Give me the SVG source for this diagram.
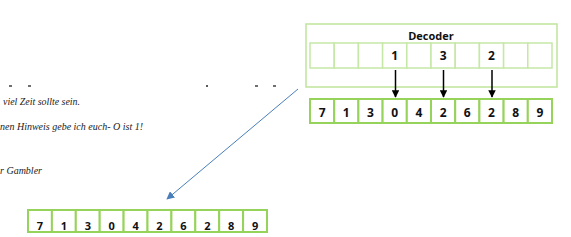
<svg xmlns="http://www.w3.org/2000/svg" width="571" height="237" viewBox="0 0 571 237">
<style>
.cellA{fill:#fff;stroke:#c6e7a6;stroke-width:1.5}
.cellB{fill:#fff;stroke:#96d35a;stroke-width:2}
.num{font-family:"Open Sans","Noto Sans",sans-serif;font-weight:bold;font-size:12px;fill:#111;text-anchor:middle}
.sm{font-size:11px}
.note{font-family:"Liberation Serif",serif;font-style:italic;font-size:10px;fill:#222}
.dash{stroke:#222;stroke-width:1.3}
</style>
<defs>
<marker id="ab" viewBox="0 0 10 10" refX="9" refY="5" markerWidth="5" markerHeight="5" orient="auto"><path d="M0,0 L10,5 L0,10 z" fill="#000"/></marker>
<marker id="ablue" viewBox="0 0 10 10" refX="9" refY="5" markerWidth="8" markerHeight="8" orient="auto" markerUnits="userSpaceOnUse"><path d="M0,0 L10,5 L0,10 z" fill="#4a7ebb"/></marker>
</defs>
<g id="notes">
<line class="dash" x1="9" y1="86" x2="12" y2="86"/>
<line class="dash" x1="28" y1="86" x2="31" y2="86"/>
<line class="dash" x1="206" y1="86" x2="208" y2="86"/>
<line class="dash" x1="255" y1="86" x2="258" y2="86"/>
<line class="dash" x1="273" y1="86" x2="276" y2="86"/>
<text class="note" x="3" y="105" textLength="77" lengthAdjust="spacingAndGlyphs">viel Zeit sollte sein.</text>
<text class="note" x="0" y="130" textLength="143" lengthAdjust="spacingAndGlyphs">nen Hinweis gebe ich euch- O ist 1!</text>
<text class="note" x="0" y="174" textLength="42" lengthAdjust="spacingAndGlyphs">r Gambler</text>
</g>
<g id="decoder">
<rect x="306" y="24" width="251" height="63" fill="#fff" stroke="#bfe59a" stroke-width="1.5"/>
<text class="num" x="431" y="40" style="font-size:11px">Decoder</text>
<rect class="cellA" x="310" y="43" width="24.2" height="25"/>
<rect class="cellA" x="334.2" y="43" width="24.2" height="25"/>
<rect class="cellA" x="358.4" y="43" width="24.2" height="25"/>
<rect class="cellA" x="382.6" y="43" width="24.2" height="25"/>
<rect class="cellA" x="406.8" y="43" width="24.2" height="25"/>
<rect class="cellA" x="431" y="43" width="24.2" height="25"/>
<rect class="cellA" x="455.2" y="43" width="24.2" height="25"/>
<rect class="cellA" x="479.4" y="43" width="24.2" height="25"/>
<rect class="cellA" x="503.6" y="43" width="24.2" height="25"/>
<rect class="cellA" x="527.8" y="43" width="24.2" height="25"/>
<text class="num" x="394.7" y="60">1</text>
<text class="num" x="443.1" y="60">3</text>
<text class="num" x="491.5" y="60">2</text>
</g>
<g id="row-top">
<rect class="cellB" x="310" y="99" width="24.2" height="24"/>
<rect class="cellB" x="334.2" y="99" width="24.2" height="24"/>
<rect class="cellB" x="358.4" y="99" width="24.2" height="24"/>
<rect class="cellB" x="382.6" y="99" width="24.2" height="24"/>
<rect class="cellB" x="406.8" y="99" width="24.2" height="24"/>
<rect class="cellB" x="431" y="99" width="24.2" height="24"/>
<rect class="cellB" x="455.2" y="99" width="24.2" height="24"/>
<rect class="cellB" x="479.4" y="99" width="24.2" height="24"/>
<rect class="cellB" x="503.6" y="99" width="24.2" height="24"/>
<rect class="cellB" x="527.8" y="99" width="24.2" height="24"/>
<text class="num" x="322.1" y="117">7</text>
<text class="num" x="346.3" y="117">1</text>
<text class="num" x="370.5" y="117">3</text>
<text class="num" x="394.7" y="117">0</text>
<text class="num" x="418.9" y="117">4</text>
<text class="num" x="443.1" y="117">2</text>
<text class="num" x="467.3" y="117">6</text>
<text class="num" x="491.5" y="117">2</text>
<text class="num" x="515.7" y="117">8</text>
<text class="num" x="539.9" y="117">9</text>
</g>
<g id="row-bottom">
<rect class="cellB" x="28" y="210" width="23.9" height="22" stroke-width="1.5"/>
<rect class="cellB" x="51.9" y="210" width="23.9" height="22" stroke-width="1.5"/>
<rect class="cellB" x="75.8" y="210" width="23.9" height="22" stroke-width="1.5"/>
<rect class="cellB" x="99.7" y="210" width="23.9" height="22" stroke-width="1.5"/>
<rect class="cellB" x="123.6" y="210" width="23.9" height="22" stroke-width="1.5"/>
<rect class="cellB" x="147.5" y="210" width="23.9" height="22" stroke-width="1.5"/>
<rect class="cellB" x="171.4" y="210" width="23.9" height="22" stroke-width="1.5"/>
<rect class="cellB" x="195.3" y="210" width="23.9" height="22" stroke-width="1.5"/>
<rect class="cellB" x="219.2" y="210" width="23.9" height="22" stroke-width="1.5"/>
<rect class="cellB" x="243.1" y="210" width="23.9" height="22" stroke-width="1.5"/>
<text class="num sm" x="40" y="229.5">7</text>
<text class="num sm" x="63.9" y="229.5">1</text>
<text class="num sm" x="87.8" y="229.5">3</text>
<text class="num sm" x="111.7" y="229.5">0</text>
<text class="num sm" x="135.6" y="229.5">4</text>
<text class="num sm" x="159.5" y="229.5">2</text>
<text class="num sm" x="183.4" y="229.5">6</text>
<text class="num sm" x="207.3" y="229.5">2</text>
<text class="num sm" x="231.2" y="229.5">8</text>
<text class="num sm" x="255.1" y="229.5">9</text>
</g>
<g id="connectors">
<line x1="395.5" y1="70" x2="395.5" y2="97" stroke="#000" stroke-width="1.5" marker-end="url(#ab)"/>
<line x1="443.5" y1="70" x2="443.5" y2="97" stroke="#000" stroke-width="1.5" marker-end="url(#ab)"/>
<line x1="492" y1="70" x2="492" y2="97" stroke="#000" stroke-width="1.5" marker-end="url(#ab)"/>
<line x1="298" y1="89" x2="167" y2="199" stroke="#4a7ebb" stroke-width="1" marker-end="url(#ablue)"/>
</g>
</svg>
